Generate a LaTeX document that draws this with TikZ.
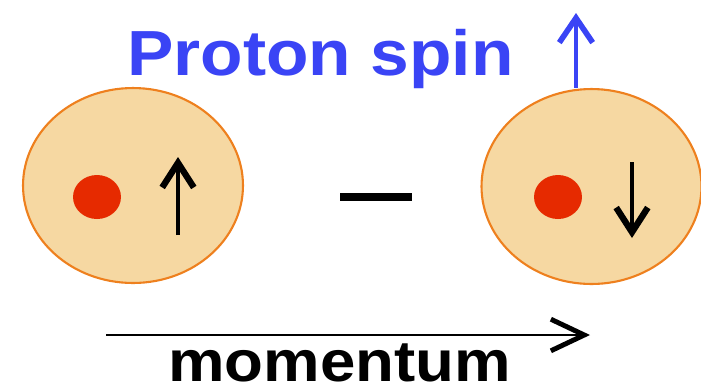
\documentclass[tikz,border=0pt]{standalone}
\usepackage{fontspec}
\setmainfont{Liberation Sans}
\definecolor{spinblue}{RGB}{58,68,245}
\definecolor{protonfill}{RGB}{246,216,162}
\definecolor{protonedge}{RGB}{238,128,30}
\definecolor{quarkred}{RGB}{230,42,0}
\usetikzlibrary{arrows.meta,positioning,shapes.geometric,calc}

\begin{document}
\begin{tikzpicture}[x=0.02cm,y=-0.02cm,
    proton/.style={draw=protonedge,fill=protonfill,line width=1.2pt,ellipse,
                   minimum width=4.4cm,minimum height=3.9cm,inner sep=0pt},
    quark/.style={fill=quarkred,ellipse,minimum width=0.96cm,minimum height=0.88cm,inner sep=0pt},
    spinarrow/.style={line width=2.8pt,-{Straight Barb[length=14pt,width=18pt,line width=3.6pt]}}]
  \useasboundingbox (0,0) rectangle (701,387);
  %% Protons
  \node[proton] (lproton) at (133,185.5) {};
  \node[proton] (rproton) at (591.5,186.5) {};
  %% Quarks
  \node[quark] (lquark) at (97,197) {};
  \node[quark] (rquark) at (558,197) {};
  %% Quark spins
  \coordinate (lspinbot) at (178,235);
  \coordinate (lspintop) at (178,157);
  \coordinate (rspintop) at (632,162);
  \coordinate (rspinbot) at (632,238);
  \draw[spinarrow] (lspinbot) -- (lspintop);
  \draw[spinarrow] (rspintop) -- (rspinbot);
  %% Minus sign
  \node[fill=black,minimum width=1.44cm,minimum height=0.16cm,inner sep=0pt] (minus) at (376,197) {};
  %% Proton spin
  \node[anchor=base west,inner sep=0pt,text depth=0pt,xscale=1.09,text=spinblue,
        font=\fontsize{36.3}{40}\selectfont\bfseries] (spinlabel) at (127,75) {Proton spin};
  \coordinate (spintip) at (576,13);
  \draw[spinblue,line width=2.6pt,-{Straight Barb[length=14pt,width=19pt,line width=3.2pt]}]
        (spintip |- rproton.north) -- (spintip);
  %% Momentum
  \coordinate (pstart) at (106,335);
  \coordinate (pend) at (590,335);
  \draw[line width=1.2pt,-{Straight Barb[length=19pt,width=18pt,line width=2.8pt]}] (pstart) -- (pend);
  \node[anchor=base west,inner sep=0pt,text depth=0pt,xscale=1.1,
        font=\fontsize{32.9}{36}\selectfont\bfseries] (momlabel) at (168,381) {momentum};
\end{tikzpicture}
\end{document}
